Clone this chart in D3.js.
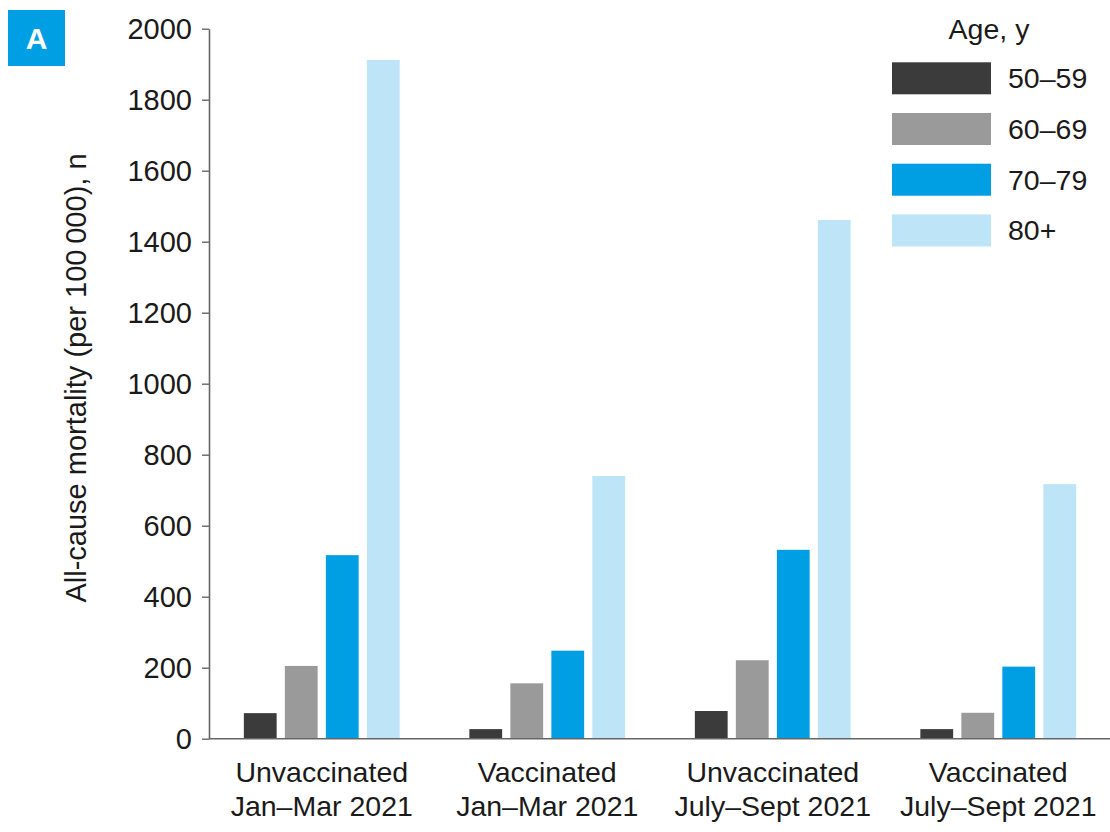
<!DOCTYPE html>
<html>
<head>
<meta charset="utf-8">
<script src="https://cdn.jsdelivr.net/npm/d3@7"></script>
<style>
  body { margin: 0; background: #fff; }
  svg text { font-family: "Liberation Sans", Arial, sans-serif; fill: #1a1a1a; }
</style>
</head>
<body>
<div id="chart"></div>
<script>
// groups on the x axis (two-line labels)
const groups = ['uj', 'vj', 'us', 'vs'];
const groupLabels = [
  ['Unvaccinated', 'Jan\u2013Mar 2021'],
  ['Vaccinated', 'Jan\u2013Mar 2021'],
  ['Unvaccinated', 'July\u2013Sept 2021'],
  ['Vaccinated', 'July\u2013Sept 2021']
];
const ages = ['50\u201359', '60\u201369', '70\u201379', '80+'];
const ageColors = ['#3b3b3b', '#9a9a9a', '#009fe3', '#bee4f8'];

// mortality per 100 000, one array per age band (order = groups)
const age50 = [72, 27, 78, 27];
const age60 = [205, 156, 221, 73];
const age70 = [517, 248, 532, 203];
const age80 = [1912, 740, 1461, 717];
const seriesValues = [age50, age60, age70, age80];

const yTicks = [0, 200, 400, 600, 800, 1000, 1200, 1400, 1600, 1800, 2000];

const width = 1110;
const height = 832;
const margin = { top: 28.7, right: 0, bottom: 93.3, left: 209 };

const svg = d3.select('#chart')
  .append('svg')
  .attr('width', width)
  .attr('height', height);

const y = d3.scaleLinear()
  .domain([0, 2000])
  .range([height - margin.bottom, margin.top]);

const x0 = d3.scaleBand()
  .domain(groups)
  .range([margin.left, margin.left + 4 * 225.5]);

const x1 = d3.scaleBand()
  .domain(ages)
  .range([0, x0.bandwidth()])
  .paddingInner(0.2)
  .paddingOuter(0.85);

const color = d3.scaleOrdinal().domain(ages).range(ageColors);

// bars
const rows = [];
groups.forEach((g, gi) => {
  ages.forEach((a, ai) => {
    rows.push({ group: g, age: a, value: seriesValues[ai][gi] });
  });
});

svg.append('g')
  .selectAll('rect')
  .data(rows)
  .enter()
  .append('rect')
  .attr('x', (d) => x0(d.group) + x1(d.age))
  .attr('y', (d) => y(d.value))
  .attr('width', x1.bandwidth())
  .attr('height', (d) => y(0) - y(d.value))
  .attr('fill', (d) => color(d.age));

// y axis
const yAxis = svg.append('g')
  .attr('transform', `translate(${margin.left},0)`)
  .call(d3.axisLeft(y)
    .tickValues(yTicks)
    .tickFormat(d3.format('d'))
    .tickSize(7)
    .tickPadding(10)
    .tickSizeOuter(0));
yAxis.select('.domain').attr('stroke', '#666').attr('stroke-width', 1.6);
yAxis.selectAll('.tick line').attr('stroke', '#666').attr('stroke-width', 1.4);
yAxis.selectAll('.tick text')
  .style('font-size', '29px')
  .attr('fill', '#1a1a1a')
  .attr('dy', '0.35em');
yAxis.attr('font-family', null);

// x axis baseline
svg.append('line')
  .attr('x1', margin.left)
  .attr('x2', width)
  .attr('y1', y(0))
  .attr('y2', y(0))
  .attr('stroke', '#666')
  .attr('stroke-width', 1.6);

// category labels
const catLabels = svg.append('g')
  .selectAll('text')
  .data(groups)
  .enter()
  .append('text')
  .attr('text-anchor', 'middle')
  .attr('x', (d) => x0(d) + x0.bandwidth() / 2)
  .attr('y', 782)
  .style('font-size', '28.5px');
catLabels.append('tspan')
  .attr('x', (d) => x0(d) + x0.bandwidth() / 2)
  .text((d, i) => groupLabels[i][0]);
catLabels.append('tspan')
  .attr('x', (d) => x0(d) + x0.bandwidth() / 2)
  .attr('dy', 34)
  .text((d, i) => groupLabels[i][1]);

// y axis title
svg.append('text')
  .attr('transform', 'translate(86, 378) rotate(-90)')
  .attr('text-anchor', 'middle')
  .style('font-size', '29px')
  .text('All-cause mortality (per 100\u2009000), n');

// legend
const legend = svg.append('g');
legend.append('text')
  .attr('x', 989)
  .attr('y', 39)
  .attr('text-anchor', 'middle')
  .style('font-size', '28.5px')
  .text('Age, y');

const legendItems = legend.selectAll('g.item')
  .data(ages)
  .enter()
  .append('g')
  .attr('class', 'item')
  .attr('transform', (d, i) => `translate(892, ${62.3 + i * 50.7})`);
legendItems.append('rect')
  .attr('width', 99)
  .attr('height', 32)
  .attr('fill', (d) => color(d));
legendItems.append('text')
  .attr('x', 116)
  .attr('y', 16)
  .attr('dy', '0.35em')
  .style('font-size', '28.5px')
  .text((d) => d);

// panel letter
svg.append('rect')
  .attr('x', 8)
  .attr('y', 10)
  .attr('width', 57)
  .attr('height', 56)
  .attr('fill', '#009fe3');
svg.append('text')
  .attr('x', 36.5)
  .attr('y', 38)
  .attr('dy', '0.36em')
  .attr('text-anchor', 'middle')
  .style('font-size', '30px')
  .style('font-weight', 'bold')
  .style('fill', '#fff')
  .text('A');
</script>
</body>
</html>
